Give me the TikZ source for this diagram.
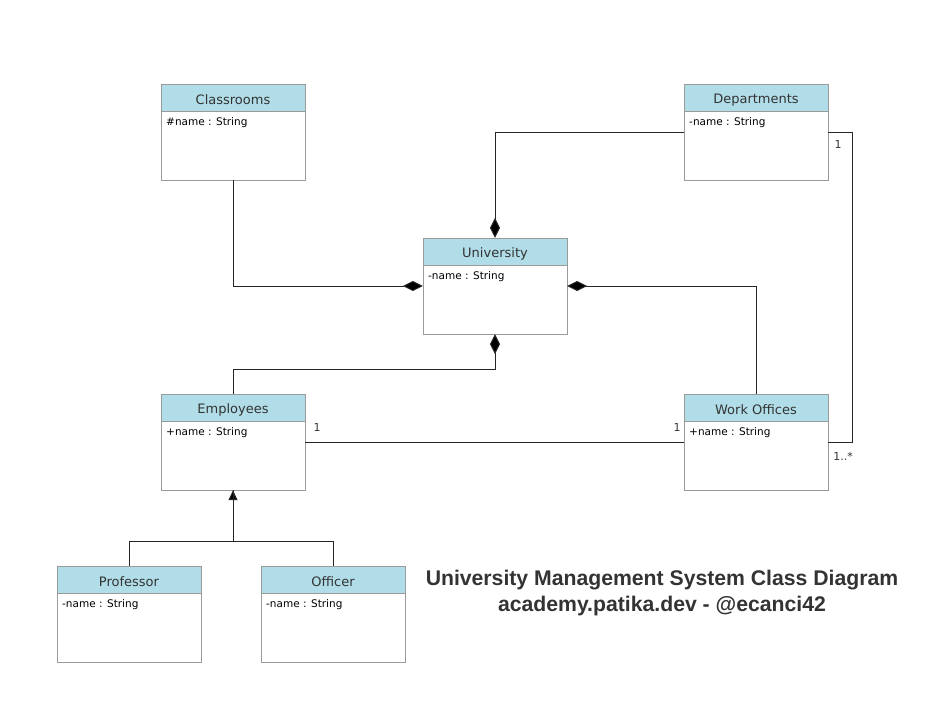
\documentclass[tikz,border=0pt]{standalone}
\usepackage{fontspec}
\setmainfont{DejaVu Sans}
\newfontfamily\titlefont{Liberation Sans}
\usepackage{tikz}
\usetikzlibrary{positioning, arrows.meta, calc}

\definecolor{headfill}{HTML}{B1DDE8}
\definecolor{boxline}{HTML}{9A9A9A}
\definecolor{inkdark}{HTML}{333333}

\begin{document}
\begin{tikzpicture}[
    x=1pt,y=-1pt,
    umlclass/.style={draw=boxline, fill=white, rectangle, minimum width=144pt, minimum height=96pt, inner sep=0pt,
        path picture={
            \fill[headfill] (path picture bounding box.north west) rectangle ([yshift=-27pt]path picture bounding box.north east);
            \draw[boxline] ([yshift=-27pt]path picture bounding box.north west) -- ([yshift=-27pt]path picture bounding box.north east);
        }},
    classname/.style={font=\fontsize{13}{15}\selectfont, text=inkdark, inner sep=0pt},
    attr/.style={font=\fontsize{10.5}{12}\selectfont, text=black, anchor=north west, inner sep=0pt},
    mult/.style={font=\fontsize{11}{13}\selectfont, text=inkdark, inner sep=0pt},
    link/.style={draw=black!85, line width=1pt},
    compose/.style={link, -{Diamond[length=20pt, width=10pt, fill=black]}},
    inherit/.style={link, -{Triangle[length=10pt, width=9pt, fill=black]}}
]
    \useasboundingbox (0,0) rectangle (952,712);

    % --- Classes ---
    \node[umlclass] (classrooms) at (233,132) {};
    \node[classname] (classroomsname) at (233,100) {Classrooms};
    \node[attr] (classroomsattr) at (166,117.5) {\#name : String};

    \node[umlclass] (departments) at (756,132) {};
    \node[classname] (departmentsname) at (756,100) {Departments};
    \node[attr] (departmentsattr) at (689,117.5) {-name : String};

    \node[umlclass] (university) at (495,286) {};
    \node[classname] (universityname) at (495,254) {University};
    \node[attr] (universityattr) at (428,271.5) {-name : String};

    \node[umlclass] (employees) at (233,442) {};
    \node[classname] (employeesname) at (233,410) {Employees};
    \node[attr] (employeesattr) at (166,427.5) {+name : String};

    \node[umlclass] (offices) at (756,442) {};
    \node[classname] (officesname) at (756,410) {Work Offices};
    \node[attr] (officesattr) at (689,427.5) {+name : String};

    \node[umlclass] (professor) at (129,614) {};
    \node[classname] (professorname) at (129,582) {Professor};
    \node[attr] (professorattr) at (62,599.5) {-name : String};

    \node[umlclass] (officer) at (333,614) {};
    \node[classname] (officername) at (333,582) {Officer};
    \node[attr] (officerattr) at (266,599.5) {-name : String};

    % --- Composition into University ---
    \draw[compose] (classrooms.south) |- (university.west);
    \draw[compose] (departments.west) -| (university.north);
    \draw[compose] (offices.north) |- (university.east);
    \draw[compose] (employees.north) -- ++(0,-24) -| (university.south);

    % --- Associations ---
    \draw[link] (employees.east) -- (offices.west);
    \node[mult] (empone) at (317,427) {1};
    \node[mult] (offone) at (677,427) {1};

    \draw[link] (departments.east) -- ++(24,0) |- (offices.east);
    \node[mult] (depone) at (838,144) {1};
    \node[mult] (offmany) at (843,456) {1..*};

    % --- Generalization ---
    \draw[inherit] (professor.north) -- ++(0,-24) -| (employees.south);
    \draw[link] (officer.north) -- ++(0,-24) -| (employees.south);

    % --- Title ---
    \node[font=\titlefont\bfseries\fontsize{21.2}{26}\selectfont, text=inkdark, align=center] (title) at (662,593)
        {University Management System Class Diagram\\academy.patika.dev - @ecanci42};

\end{tikzpicture}
\end{document}
